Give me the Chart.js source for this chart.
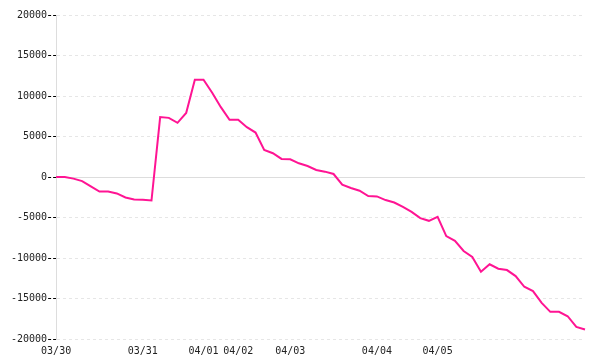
<!DOCTYPE html>
<html>
<head>
<meta charset="utf-8">
<script src="https://cdn.jsdelivr.net/npm/chart.js@4/dist/chart.umd.min.js"></script>
<style>
  html, body { margin: 0; padding: 0; background: #fff; }
  #wrap { width: 600px; height: 360px; }
</style>
</head>
<body>
<div id="wrap"><canvas id="c" width="600" height="360"></canvas></div>
<script>
// ---- data ----
const values = [0, 0, -200, -500, -1160, -1800, -1800, -2030, -2530, -2780, -2810, -2900,
  7400, 7300, 6690, 7900, 12000, 12000, 10400, 8620, 7060, 7060,
  6150, 5490, 3340, 2930, 2230, 2180, 1690, 1360, 870, 660, 370,
  -950, -1360, -1700, -2350, -2400, -2850, -3150, -3680, -4300, -5080, -5410, -4920,
  -7300, -7890, -9130, -9870, -11700, -10780, -11320, -11490, -12230, -13550, -14090,
  -15540, -16650, -16650, -17190, -18510, -18830];
const dayLabels = ['03/30', '03/31', '04/01', '04/02', '04/03', '04/04', '04/05'];
const dayStartIndex = [0, 10, 17, 21, 27, 37, 44];
const yTicks = [20000, 15000, 10000, 5000, 0, -5000, -10000, -15000, -20000];

const categories = values.map(() => '');
dayStartIndex.forEach((idx, k) => { categories[idx] = dayLabels[k]; });

const FONT = { family: '"DejaVu Sans Mono", "Liberation Mono", monospace', size: 10 };

const zeroLine = {
  id: 'zeroLine',
  beforeDatasetsDraw(chart) {
    const { ctx, chartArea, scales } = chart;
    const y = Math.round(scales.y.getPixelForValue(0)) + 0.5;
    ctx.save();
    ctx.strokeStyle = '#dddddd';
    ctx.lineWidth = 1;
    ctx.beginPath();
    ctx.moveTo(chartArea.left, y);
    ctx.lineTo(chartArea.right, y);
    ctx.stroke();
    ctx.restore();
  }
};

new Chart(document.getElementById('c'), {
  type: 'line',
  data: {
    labels: categories,
    datasets: [{
      data: values,
      borderColor: '#ff1493',
      borderWidth: 2,
      pointRadius: 0,
      pointHoverRadius: 0,
      tension: 0,
      fill: false
    }]
  },
  options: {
    responsive: false,
    animation: false,
    events: [],
    layout: { padding: { left: 10, right: 15, top: 15, bottom: -3 } },
    plugins: { legend: { display: false }, tooltip: { enabled: false } },
    scales: {
      x: {
        type: 'category',
        grid: { display: false, drawTicks: false },
        border: { display: false },
        ticks: {
          autoSkip: false, maxRotation: 0, minRotation: 0,
          padding: 6, color: '#222', font: FONT
        }
      },
      y: {
        min: -20000, max: 20000,
        afterBuildTicks(scale) { scale.ticks = yTicks.map(v => ({ value: v })); },
        grid: {
          color: (c) => (c.tick && c.tick.value === 0) ? 'rgba(0,0,0,0)' : '#e6e6e6',
          lineWidth: 1,
          tickColor: '#000',
          tickLength: 8,
          tickBorderDash: [3, 2],
          drawTicks: true
        },
        border: { display: true, color: '#dddddd', width: 1, dash: [3, 3] },
        ticks: { padding: 1, color: '#222', font: FONT, callback: (v) => String(v) }
      }
    }
  },
  plugins: [zeroLine]
});
</script>
</body>
</html>
